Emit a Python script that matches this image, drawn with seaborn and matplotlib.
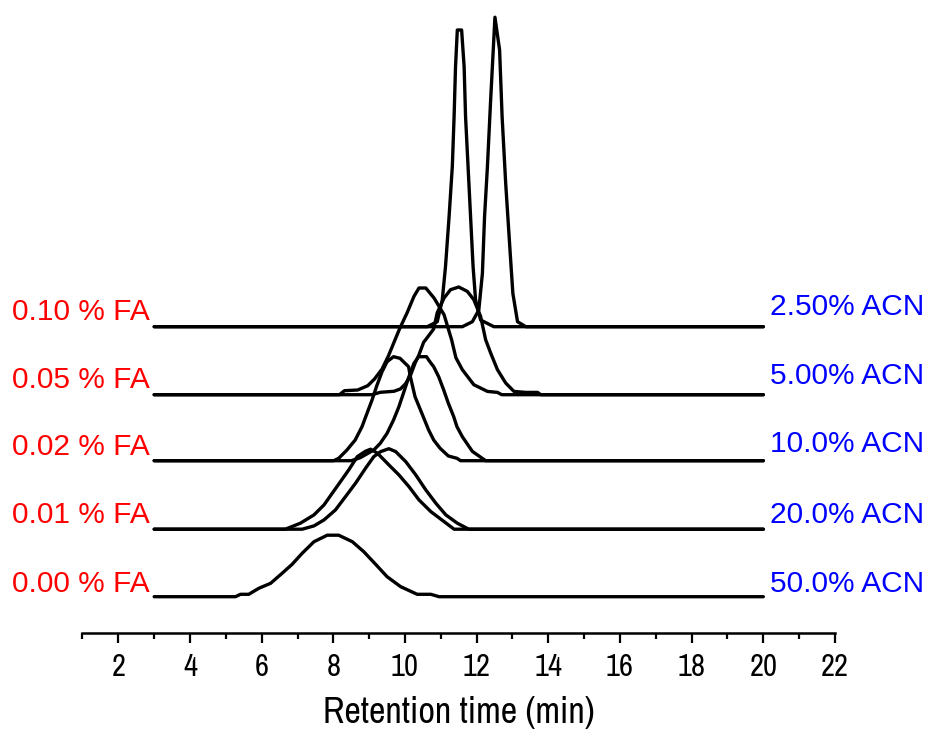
import numpy as np
import pandas as pd
import matplotlib
matplotlib.use("Agg")
import matplotlib.pyplot as plt
from matplotlib import font_manager
from matplotlib.font_manager import FontProperties
import seaborn as sns

# Retention-time axis
x_min, x_max = 1, 22
baseline_start, baseline_end = 3, 20

# Mobile-phase conditions for each stacked chromatogram (bottom to top)
fa_labels = ["0.00 % FA", "0.01 % FA", "0.02 % FA", "0.05 % FA", "0.10 % FA"]
acn_labels = ["50.0% ACN", "20.0% ACN", "10.0% ACN", "5.00% ACN", "2.50% ACN"]
level_offsets = [0, 67.5, 136, 202, 270]

# Peak profiles: time (min) and signal above the trace's own baseline
t_00 = [5.27, 5.41, 5.64, 5.92, 6.25, 6.57, 6.85, 7.13, 7.46, 7.83, 8.15, 8.53,
        8.85, 9.18, 9.50, 9.88, 10.34, 10.72, 10.95]
s_00 = [0, 2.4, 2.4, 8.4, 13.4, 23.4, 32.4, 43.4, 55, 61.5, 61.5, 55,
        45, 32.4, 20, 10, 2.4, 2.4, 0]

t_01a = [6.66, 7.08, 7.46, 7.74, 7.97, 8.20, 8.43, 8.67, 8.90, 9.04, 9.23, 9.55,
         9.83, 10.11, 10.39, 10.72, 11.09, 11.37]
s_01a = [0, 6, 14.3, 24.3, 36, 47.6, 59.3, 72.6, 78, 80, 76, 64.3,
         54.3, 42.6, 29.3, 17.6, 7.6, 0]
t_01b = [7.13, 7.46, 7.74, 8.06, 8.34, 8.62, 8.90, 9.13, 9.32, 9.55, 9.74, 10.02,
         10.30, 10.58, 10.86, 11.14, 11.46, 11.78]
s_01b = [0, 3.3, 9.3, 19.3, 32.6, 46, 61, 72.6, 77.6, 80.5, 77.6, 67.6,
         54.3, 39.3, 26, 14.3, 6, 0]

t_02a = [8.01, 8.15, 8.38, 8.61, 8.80, 8.94, 9.08, 9.22, 9.36, 9.50, 9.68, 9.86,
         10.10, 10.15, 10.28, 10.47, 10.66, 10.80, 10.98, 11.21, 11.45, 11.55]
s_02a = [0, 2.4, 10.7, 20.7, 34, 47.4, 60.7, 75.7, 89, 99, 104, 102.4,
         94, 84, 64, 47.4, 30.7, 20.7, 12.4, 4.7, 2.4, 0]
t_02b = [8.50, 8.75, 9.13, 9.31, 9.50, 9.68, 9.83, 9.97, 10.11, 10.25, 10.38, 10.60,
         10.66, 10.80, 10.94, 11.08, 11.21, 11.36, 11.45, 11.60, 11.88, 12.25]
s_02b = [0, 3, 10.7, 17.4, 27.4, 40.7, 54, 69, 84, 97.4, 104, 104,
         100.7, 94, 84, 70.7, 57.4, 44, 34, 24, 9.3, 0]

t_05a = [8.17, 8.31, 8.68, 8.96, 9.15, 9.36, 9.54, 9.70, 9.85, 10.06, 10.25, 10.39,
         10.58, 10.81, 11.09, 11.30, 11.42, 11.60, 11.92, 12.30, 12.58, 12.70]
s_05a = [0, 4, 4.7, 9, 15.7, 25.7, 39, 53, 66, 82, 98.3, 106.7,
         106.7, 96.7, 80, 55, 37, 25, 10, 3.3, 2.3, 0]
t_05b = [9.08, 9.31, 9.69, 9.87, 10.01, 10.15, 10.29, 10.38, 10.52, 10.66, 10.80, 10.90,
         11.09, 11.27, 11.50, 11.74, 11.92, 12.11, 12.25, 12.39, 12.58, 12.81,
         13.04, 13.37, 13.70, 13.79]
s_05b = [0, 2.4, 3.4, 5.7, 10.7, 19, 32.4, 39, 52.4, 59, 65.7, 82,
         96.7, 105, 107.7, 103.3, 95, 78.3, 55, 41.7, 25, 11.7,
         3.3, 2.3, 2.3, 0]

t_10a = [10.62, 10.90, 11.04, 11.13, 11.23, 11.32, 11.37, 11.41, 11.46, 11.58, 11.65, 11.69,
         11.76, 11.83, 11.90, 11.97, 12.11, 12.48]
s_10a = [0, 5, 26.7, 60, 110, 160, 210, 260, 296.7, 296.7, 260, 210,
         160, 110, 60, 26.7, 6.7, 0]
t_10b = [11.60, 11.88, 12.06, 12.16, 12.22, 12.30, 12.39, 12.51, 12.64, 12.71, 12.81, 12.93,
         13.01, 13.14, 13.37]
s_10b = [0, 5, 16.7, 53.3, 110, 160, 226.7, 309.5, 276.7, 210, 143.3, 76.7,
         33.3, 5, 0]

peaks = [
    (0, t_00, s_00),
    (1, t_01a, s_01a), (1, t_01b, s_01b),
    (2, t_02a, s_02a), (2, t_02b, s_02b),
    (3, t_05a, s_05a), (3, t_05b, s_05b),
    (4, t_10a, s_10a), (4, t_10b, s_10b),
]

# Long table: each run drawn from its baseline start through the peak to the baseline end
rows = []
for run_id, (level, t, s) in enumerate(peaks):
    off = level_offsets[level]
    times = [baseline_start] + list(t) + [baseline_end]
    sig = [0] + list(s) + [0]
    for order, (ti, si) in enumerate(zip(times, sig)):
        rows.append({"run": run_id, "order": order, "time": ti, "signal": si + off})
df = pd.DataFrame(rows)


def pick_font(names):
    for name in names:
        try:
            font_manager.findfont(name, fallback_to_default=False)
            return name
        except Exception:
            continue
    return "DejaVu Sans"


def narrow_font_file():
    for f in font_manager.fontManager.ttflist:
        if "narrow" in f.name.lower() and f.weight in (400, "normal", "regular") \
                and f.style == "normal":
            return f.fname
    return None


sns.set_theme(style="white")
regular = pick_font(["Liberation Sans", "Arial"])
plt.rcParams["font.family"] = [regular, "DejaVu Sans"]

narrow_path = narrow_font_file()
if narrow_path:
    tick_fp = FontProperties(fname=narrow_path, size=22)
    xlabel_fp = FontProperties(fname=narrow_path, size=26)
else:
    tick_fp = FontProperties(family=regular, size=17)
    xlabel_fp = FontProperties(family=regular, size=22)

fig = plt.figure(figsize=(9.28, 7.38), dpi=100)
px_left, px_right, px_bottom = 82.5, 835.0, 633.0
ax = fig.add_axes([px_left / 928, (738 - px_bottom) / 738,
                   (px_right - px_left) / 928, px_bottom / 738])

sns.lineplot(data=df, x="time", y="signal", units="run", estimator=None,
             sort=False, color="black", linewidth=2.4, ax=ax, legend=False)

ax.set_xlim(x_min, x_max)
ax.set_ylim(-36.3, 596.7)

for side in ["top", "right", "left"]:
    ax.spines[side].set_visible(False)
ax.spines["bottom"].set_linewidth(1.8)
ax.spines["bottom"].set_color("black")

ax.set_yticks([])
ax.set_xticks(np.arange(2, 23, 2))
ax.set_xticks(np.arange(1, 22, 2), minor=True)
ax.tick_params(axis="x", which="major", direction="out", length=7.5, width=1.6,
               color="black", pad=7, bottom=True)
ax.tick_params(axis="x", which="minor", direction="out", length=4, width=1.6,
               color="black", bottom=True)
for lab in ax.get_xticklabels():
    lab.set_fontproperties(tick_fp)
    lab.set_color("black")

ax.set_xlabel("Retention time (min)", fontproperties=xlabel_fp,
              color="black", labelpad=11)
ax.set_ylabel("")

# Condition labels on both ends of each baseline (small vertical nudges per row)
left_x = 1 + (150 - px_left) / 35.83
right_x = 1 + (924 - px_left) / 35.83
left_nudge = [5, 6, 6, 7, 7]
right_nudge = [5, 6, 9, 11, 12]
for off, fa, acn, ln, rn in zip(level_offsets, fa_labels, acn_labels,
                                left_nudge, right_nudge):
    ax.text(left_x, off + ln, fa, color="#ff0000", fontsize=21.5,
            ha="right", va="baseline", clip_on=False)
    ax.text(right_x, off + rn, acn, color="#0000ff", fontsize=21.5,
            ha="right", va="baseline", clip_on=False)

fig.savefig("out.png", dpi=100, facecolor="white")
